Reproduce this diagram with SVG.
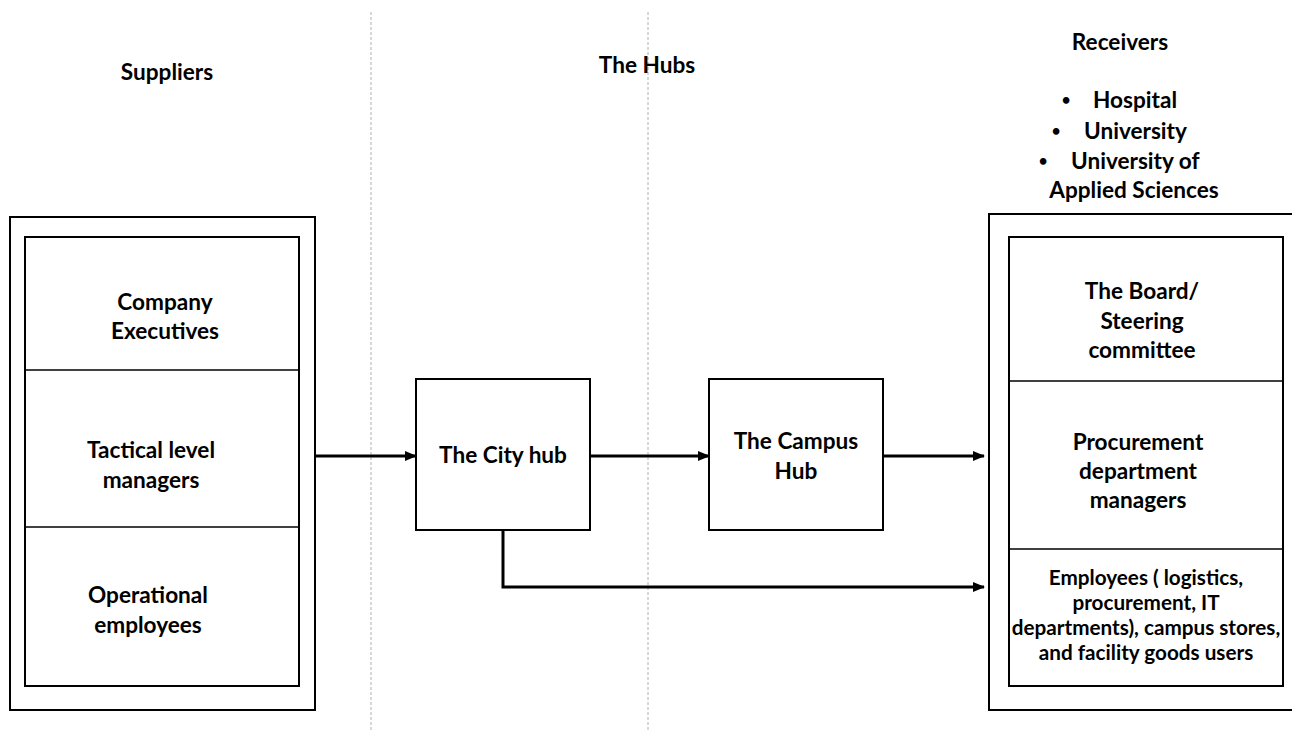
<svg xmlns="http://www.w3.org/2000/svg" width="1292" height="731" viewBox="0 0 1292 731">
<style>
text{font-family:Lato,"Liberation Sans",sans-serif;font-weight:bold;fill:#000;text-anchor:middle}
.t{font-size:22.6px}
.s{font-size:20.7px}
.b{font-size:15px}
.st{text-anchor:start}
.box{fill:#fff;stroke:#000;stroke-width:2}
.div{stroke:#000;stroke-width:1.5}
.guide{stroke:#b0b0b0;stroke-width:1;stroke-dasharray:3 2}
.conn{fill:none;stroke:#000;stroke-width:3}
</style>
<defs>
<marker id="arr" markerWidth="12" markerHeight="10" refX="11" refY="5" orient="auto" markerUnits="userSpaceOnUse">
<path d="M0,0 L12,5 L0,10 Z" fill="#000"/>
</marker>
</defs>
<rect width="1292" height="731" fill="#fff"/>
<g id="guides">
<line class="guide" x1="371" y1="12" x2="371" y2="731"/>
<line class="guide" x1="648" y1="12" x2="648" y2="731"/>
</g>
<g id="headers">
<text class="t" x="167" y="80">Suppliers</text>
<text class="t" x="647" y="73">The Hubs</text>
<text class="t" x="1120" y="50">Receivers</text>
<text class="b" x="1066" y="105">•</text>
<text class="t st" x="1093" y="108">Hospital</text>
<text class="b" x="1056" y="136">•</text>
<text class="t st" x="1084" y="139">University</text>
<text class="b" x="1043" y="166">•</text>
<text class="t st" x="1071" y="169">University of</text>
<text class="t" x="1134" y="198">Applied Sciences</text>
</g>
<g id="suppliers">
<rect class="box" x="10" y="217" width="305" height="493"/>
<rect class="box" x="25" y="237" width="274" height="449"/>
<line class="div" x1="25" y1="370" x2="299" y2="370"/>
<line class="div" x1="25" y1="527" x2="299" y2="527"/>
<text class="t" x="165" y="310">Company</text>
<text class="t" x="165" y="339">Executives</text>
<text class="t" x="151" y="458">Tactical level</text>
<text class="t" x="151" y="488">managers</text>
<text class="t" x="148" y="603">Operational</text>
<text class="t" x="148" y="633">employees</text>
</g>
<g id="city-hub">
<rect class="box" x="416" y="379" width="174" height="151"/>
<text class="t" x="503" y="463">The City hub</text>
</g>
<g id="campus-hub">
<rect class="box" x="709" y="379" width="174" height="151"/>
<text class="t" x="796" y="449">The Campus</text>
<text class="t" x="796" y="479">Hub</text>
</g>
<g id="receivers">
<rect class="box" x="989" y="214" width="310" height="496"/>
<rect class="box" x="1009" y="237" width="274" height="449"/>
<line class="div" x1="1009" y1="381" x2="1283" y2="381"/>
<line class="div" x1="1009" y1="549" x2="1283" y2="549"/>
<text class="t" x="1142" y="299">The Board/</text>
<text class="t" x="1142" y="329">Steering</text>
<text class="t" x="1142" y="358">committee</text>
<text class="t" x="1138" y="450">Procurement</text>
<text class="t" x="1138" y="479">department</text>
<text class="t" x="1138" y="508">managers</text>
<text class="s" x="1146" y="585">Employees ( logistics,</text>
<text class="s" x="1146" y="610">procurement, IT</text>
<text class="s" x="1146" y="635">departments), campus stores,</text>
<text class="s" x="1146" y="660">and facility goods users</text>
</g>
<g id="connectors">
<line class="conn" x1="316" y1="456" x2="416" y2="456" marker-end="url(#arr)"/>
<line class="conn" x1="590" y1="456" x2="709" y2="456" marker-end="url(#arr)"/>
<line class="conn" x1="883" y1="456" x2="984" y2="456" marker-end="url(#arr)"/>
<polyline class="conn" points="503,530 503,587 984,587" marker-end="url(#arr)"/>
</g>
</svg>
